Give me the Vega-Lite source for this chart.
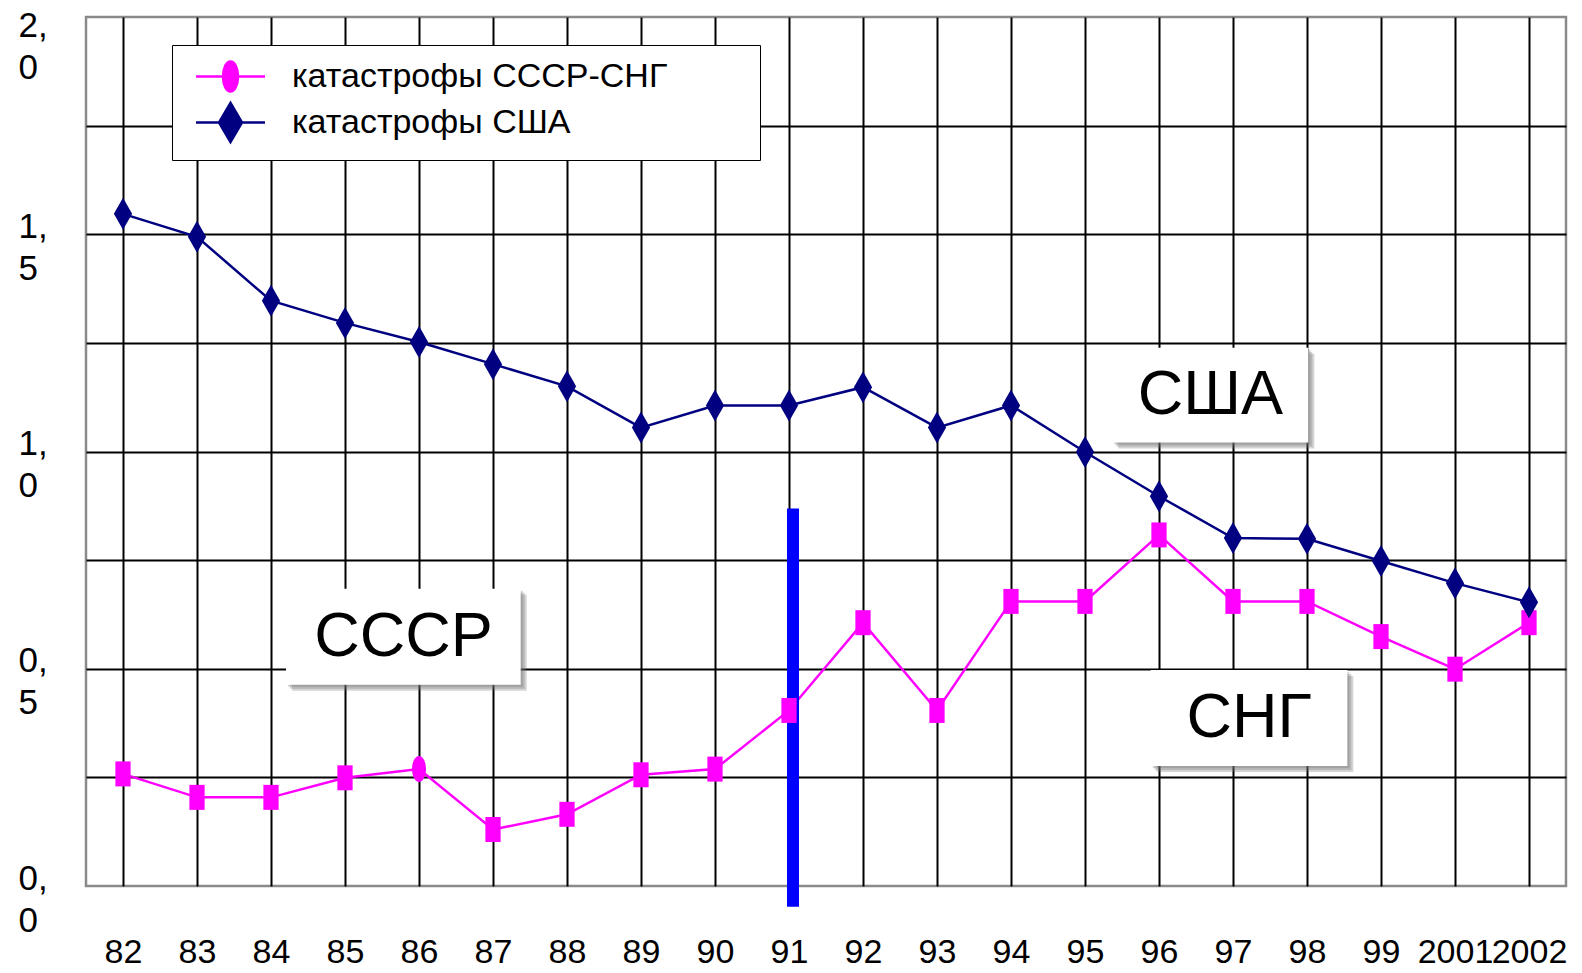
{
  "$schema": "https://vega.github.io/schema/vega-lite/v6.json",
  "width": 1480,
  "height": 869,
  "autosize": "none",
  "padding": {"left": 86, "top": 17, "right": 16, "bottom": 87},
  "background": "white",
  "config": {"view": {"stroke": "#8a8a8a", "strokeWidth": 2.5}, "font": "Liberation Sans"},
  "datasets": {
    "series": [
      {"i": 0, "year": "82", "series": "катастрофы СССР-СНГ", "value": 0.258},
      {"i": 1, "year": "83", "series": "катастрофы СССР-СНГ", "value": 0.204},
      {"i": 2, "year": "84", "series": "катастрофы СССР-СНГ", "value": 0.204},
      {"i": 3, "year": "85", "series": "катастрофы СССР-СНГ", "value": 0.249},
      {"i": 4, "year": "86", "series": "катастрофы СССР-СНГ", "value": 0.269},
      {"i": 5, "year": "87", "series": "катастрофы СССР-СНГ", "value": 0.130},
      {"i": 6, "year": "88", "series": "катастрофы СССР-СНГ", "value": 0.165},
      {"i": 7, "year": "89", "series": "катастрофы СССР-СНГ", "value": 0.256},
      {"i": 8, "year": "90", "series": "катастрофы СССР-СНГ", "value": 0.269},
      {"i": 9, "year": "91", "series": "катастрофы СССР-СНГ", "value": 0.404},
      {"i": 10, "year": "92", "series": "катастрофы СССР-СНГ", "value": 0.606},
      {"i": 11, "year": "93", "series": "катастрофы СССР-СНГ", "value": 0.404},
      {"i": 12, "year": "94", "series": "катастрофы СССР-СНГ", "value": 0.655},
      {"i": 13, "year": "95", "series": "катастрофы СССР-СНГ", "value": 0.655},
      {"i": 14, "year": "96", "series": "катастрофы СССР-СНГ", "value": 0.808},
      {"i": 15, "year": "97", "series": "катастрофы СССР-СНГ", "value": 0.655},
      {"i": 16, "year": "98", "series": "катастрофы СССР-СНГ", "value": 0.655},
      {"i": 17, "year": "99", "series": "катастрофы СССР-СНГ", "value": 0.574},
      {"i": 18, "year": "2001", "series": "катастрофы СССР-СНГ", "value": 0.499},
      {"i": 19, "year": "2002", "series": "катастрофы СССР-СНГ", "value": 0.606},
      {"i": 0, "year": "82", "series": "катастрофы США", "value": 1.547},
      {"i": 1, "year": "83", "series": "катастрофы США", "value": 1.494},
      {"i": 2, "year": "84", "series": "катастрофы США", "value": 1.347},
      {"i": 3, "year": "85", "series": "катастрофы США", "value": 1.296},
      {"i": 4, "year": "86", "series": "катастрофы США", "value": 1.252},
      {"i": 5, "year": "87", "series": "катастрофы США", "value": 1.201},
      {"i": 6, "year": "88", "series": "катастрофы США", "value": 1.150},
      {"i": 7, "year": "89", "series": "катастрофы США", "value": 1.055},
      {"i": 8, "year": "90", "series": "катастрофы США", "value": 1.106},
      {"i": 9, "year": "91", "series": "катастрофы США", "value": 1.106},
      {"i": 10, "year": "92", "series": "катастрофы США", "value": 1.148},
      {"i": 11, "year": "93", "series": "катастрофы США", "value": 1.055},
      {"i": 12, "year": "94", "series": "катастрофы США", "value": 1.106},
      {"i": 13, "year": "95", "series": "катастрофы США", "value": 0.999},
      {"i": 14, "year": "96", "series": "катастрофы США", "value": 0.897},
      {"i": 15, "year": "97", "series": "катастрофы США", "value": 0.801},
      {"i": 16, "year": "98", "series": "катастрофы США", "value": 0.799},
      {"i": 17, "year": "99", "series": "катастрофы США", "value": 0.748},
      {"i": 18, "year": "2001", "series": "катастрофы США", "value": 0.697},
      {"i": 19, "year": "2002", "series": "катастрофы США", "value": 0.653}
    ],
    "notes": [
      {"label": "СССР", "x1": 2.203, "x2": 5.374, "y1": 0.463, "y2": 0.684, "xc": 3.789, "yc": 0.573},
      {"label": "США", "x1": 13.369, "x2": 16.018, "y1": 1.021, "y2": 1.239, "xc": 14.693, "yc": 1.130},
      {"label": "СНГ", "x1": 13.888, "x2": 16.545, "y1": 0.276, "y2": 0.497, "xc": 15.216, "yc": 0.387}
    ],
    "divider": [{"i": 9, "top": 0.869, "bottom": -0.048}]
  },
  "layer": [
    {
      "data": {"name": "series"},
      "transform": [{"filter": "datum.series == 'катастрофы СССР-СНГ'"}],
      "mark": {"type": "line", "strokeWidth": 2.5, "color": "#FF00FF"},
      "encoding": {
        "x": {
          "field": "i", "type": "quantitative",
          "scale": {"domain": [-0.5, 19.5], "nice": false, "zero": false},
          "axis": {
            "title": null,
            "values": [0, 1, 2, 3, 4, 5, 6, 7, 8, 9, 10, 11, 12, 13, 14, 15, 16, 17, 18, 19],
            "labelExpr": "['82','83','84','85','86','87','88','89','90','91','92','93','94','95','96','97','98','99','2001','2002'][datum.value]",
            "grid": true, "gridColor": "black", "gridWidth": 2,
            "ticks": false, "tickSize": 0, "domain": false,
            "labelFont": "Liberation Sans", "labelFontSize": 34, "labelColor": "black",
            "labelPadding": 76, "labelBaseline": "alphabetic",
            "labelOverlap": false, "labelBound": false, "labelFlush": false
          }
        },
        "y": {
          "field": "value", "type": "quantitative",
          "scale": {"domain": [0, 2], "nice": false, "zero": false},
          "axis": {
            "title": null,
            "values": [0, 0.25, 0.5, 0.75, 1, 1.25, 1.5, 1.75, 2],
            "labelExpr": "(round(datum.value*4) % 2 == 0) ? [format(floor(datum.value),'d') + ',', format(round(datum.value*10) % 10,'d')] : ''",
            "grid": true, "gridColor": "black", "gridWidth": 2,
            "gridOpacity": {"condition": {"test": "datum.value == 0 || datum.value == 2", "value": 0}, "value": 1},
            "ticks": false, "tickSize": 0, "domain": false,
            "labelFont": "Liberation Sans", "labelFontSize": 35, "labelColor": "black",
            "labelAlign": "left", "labelBaseline": "alphabetic", "labelPadding": 68,
            "labelLineHeight": 42,
            "labelOffset": {"condition": {"test": "datum.value == 2", "value": 19}, "value": 3},
            "labelOverlap": false, "labelBound": false, "labelFlush": false
          }
        }
      }
    },
    {
      "data": {"name": "series"},
      "transform": [{"filter": "datum.series == 'катастрофы США'"}],
      "mark": {"type": "line", "strokeWidth": 2.5, "color": "#000080"},
      "encoding": {
        "x": {"field": "i", "type": "quantitative", "title": null},
        "y": {"field": "value", "type": "quantitative", "title": null}
      }
    },
    {
      "data": {"name": "divider"},
      "mark": {"type": "rule", "color": "#0000FF", "strokeWidth": 12, "strokeCap": "butt", "xOffset": 4},
      "encoding": {
        "x": {"field": "i", "type": "quantitative", "title": null},
        "y": {"field": "top", "type": "quantitative", "title": null},
        "y2": {"field": "bottom"}
      }
    },
    {
      "data": {"name": "series"},
      "transform": [{"filter": "datum.series == 'катастрофы СССР-СНГ'"}],
      "mark": {"type": "point", "filled": true, "opacity": 1, "color": "#FF00FF", "size": 625, "strokeWidth": 0},
      "encoding": {
        "x": {"field": "i", "type": "quantitative", "title": null},
        "y": {"field": "value", "type": "quantitative", "title": null},
        "shape": {
          "condition": {"test": "datum.year == '86'", "value": "M-0.56,0A0.56,1.04,0,1,0,0.56,0A0.56,1.04,0,1,0,-0.56,0Z"},
          "value": "M-0.61,-1L0.61,-1L0.61,1L-0.61,1Z"
        }
      }
    },
    {
      "data": {"name": "series"},
      "transform": [{"filter": "datum.series == 'катастрофы США'"}],
      "mark": {"type": "point", "filled": true, "opacity": 1, "color": "#000080", "size": 1024, "strokeWidth": 0, "shape": "M0,-1L0.57,0L0,1L-0.57,0Z"},
      "encoding": {
        "x": {"field": "i", "type": "quantitative", "title": null},
        "y": {"field": "value", "type": "quantitative", "title": null}
      }
    },
    {
      "data": {"name": "notes"},
      "mark": {"type": "rect", "color": "#707070", "opacity": 0.3, "xOffset": 2, "x2Offset": 2, "yOffset": 2, "y2Offset": 2},
      "encoding": {
        "x": {"field": "x1", "type": "quantitative", "title": null}, "x2": {"field": "x2"},
        "y": {"field": "y1", "type": "quantitative", "title": null}, "y2": {"field": "y2"}
      }
    },
    {
      "data": {"name": "notes"},
      "mark": {"type": "rect", "color": "#707070", "opacity": 0.3, "xOffset": 4, "x2Offset": 4, "yOffset": 4, "y2Offset": 4},
      "encoding": {
        "x": {"field": "x1", "type": "quantitative", "title": null}, "x2": {"field": "x2"},
        "y": {"field": "y1", "type": "quantitative", "title": null}, "y2": {"field": "y2"}
      }
    },
    {
      "data": {"name": "notes"},
      "mark": {"type": "rect", "color": "#707070", "opacity": 0.3, "xOffset": 6, "x2Offset": 6, "yOffset": 6, "y2Offset": 6},
      "encoding": {
        "x": {"field": "x1", "type": "quantitative", "title": null}, "x2": {"field": "x2"},
        "y": {"field": "y1", "type": "quantitative", "title": null}, "y2": {"field": "y2"}
      }
    },
    {
      "data": {"name": "notes"},
      "mark": {"type": "rect", "color": "white", "opacity": 1},
      "encoding": {
        "x": {"field": "x1", "type": "quantitative", "title": null}, "x2": {"field": "x2"},
        "y": {"field": "y1", "type": "quantitative", "title": null}, "y2": {"field": "y2"}
      }
    },
    {
      "data": {"name": "notes"},
      "mark": {"type": "text", "font": "Liberation Sans", "fontSize": 63, "color": "black", "align": "center", "baseline": "middle"},
      "encoding": {
        "x": {"field": "xc", "type": "quantitative", "title": null},
        "y": {"field": "yc", "type": "quantitative", "title": null},
        "text": {"field": "label"}
      }
    },
    {
      "data": {"name": "series"},
      "mark": {"type": "point", "filled": true, "clip": true, "opacity": 1, "strokeWidth": 2.5},
      "encoding": {
        "x": {"field": "i", "type": "quantitative", "title": null},
        "y": {"datum": -1, "type": "quantitative"},
        "shape": {
          "field": "series", "type": "nominal",
          "scale": {"domain": ["катастрофы СССР-СНГ", "катастрофы США"], "range": ["M-2.03,0L2.03,0M-0.441,0A0.441,0.882,0,1,0,0.441,0A0.441,0.882,0,1,0,-0.441,0Z", "M-2.03,0L2.03,0M0,-1.147L0.676,0L0,1.147L-0.676,0Z"]},
          "legend": {
            "title": " ", "titleOrient": "right", "titlePadding": 80, "titleFontSize": 10,
            "orient": "none", "legendX": 86, "legendY": 28, "direction": "vertical",
            "padding": 13, "strokeColor": "black", "fillColor": "white",
            "symbolSize": 1156, "symbolStrokeWidth": 2.5, "symbolOffset": 27,
            "labelFont": "Liberation Sans", "labelFontSize": 34, "labelColor": "black",
            "labelOffset": 43, "rowPadding": 1, "labelLimit": 1000
          }
        },
        "fill": {
          "field": "series", "type": "nominal",
          "scale": {"domain": ["катастрофы СССР-СНГ", "катастрофы США"], "range": ["#FF00FF", "#000080"]}
        },
        "stroke": {
          "field": "series", "type": "nominal",
          "scale": {"domain": ["катастрофы СССР-СНГ", "катастрофы США"], "range": ["#FF00FF", "#000080"]}
        }
      }
    }
  ]
}
